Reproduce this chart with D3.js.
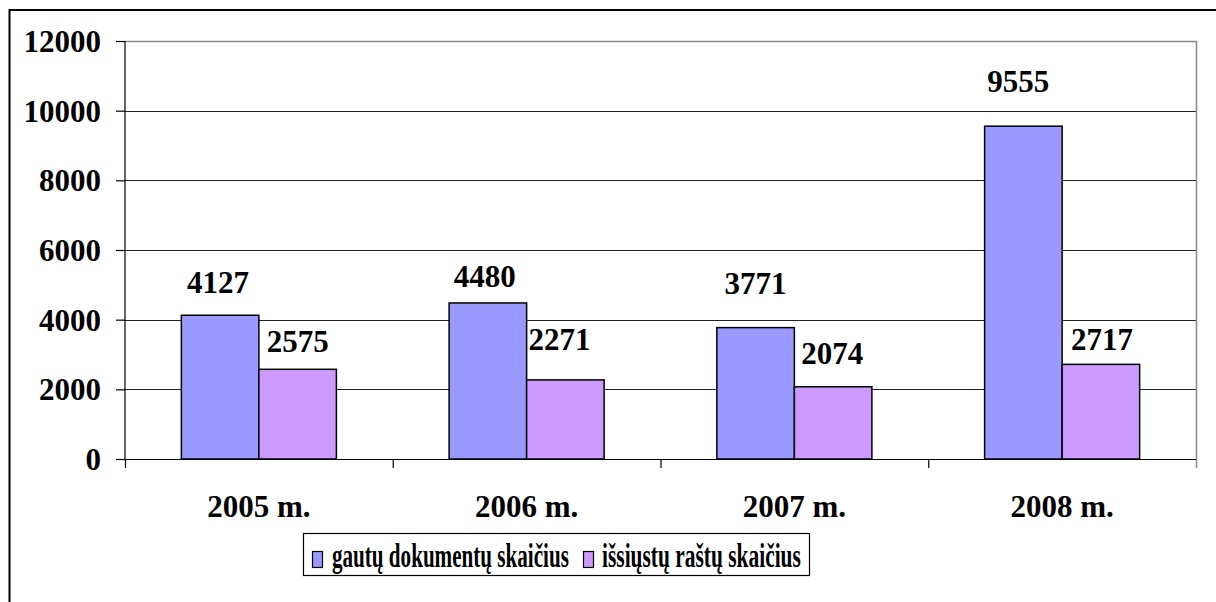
<!DOCTYPE html>
<html><head><meta charset="utf-8">
<script src="https://cdn.jsdelivr.net/npm/d3@7"></script>
<style>body{margin:0;background:#fff}svg{display:block}</style>
</head><body>
<script>
const categories = ["2005 m.", "2006 m.", "2007 m.", "2008 m."];
const seriesNames = ["gautų dokumentų skaičius", "išsiųstų raštų skaičius"];
const received = [4127, 4480, 3771, 9555];
const sent = [2575, 2271, 2074, 2717];
const yTicks = [0, 2000, 4000, 6000, 8000, 10000, 12000];
const colors = ["#9999FF", "#CC99FF"];
// label placement nudges (baseline gap above bar top, horizontal shift)
const gapReceived = [22, 16, 34, 34];
const gapSent = [17, 30, 23, 14];
const dxReceived = [-2, -3, 0, -5];
const dxSent = [0, -6, -1, 1];

const W = 1216, H = 602;
const font = "'Liberation Serif','Times New Roman',serif";
const svg = d3.select("body").append("svg").attr("width", W).attr("height", H);

// outer frame extending beyond the viewport
svg.append("rect").attr("x", 9.5).attr("y", 10).attr("width", 1300).attr("height", 700)
  .attr("fill", "none").attr("stroke", "#000").attr("stroke-width", 2);

const L = 125, R = 1196, T = 41, B = 459;
const x0 = d3.scaleBand().domain(categories).range([L, R]).padding(0);
const bw = x0.bandwidth();
const x1 = d3.scaleBand().domain([0, 1]).range([bw * 0.2105, bw * 0.7895]).padding(0);
const y = d3.scaleLinear().domain([0, 12000]).range([B, T]);

// gridlines
svg.append("g").selectAll("line").data(yTicks.filter(d => d > 0 && d < 12000)).join("line")
  .attr("x1", L).attr("x2", R).attr("y1", d => Math.round(y(d)) + 0.5).attr("y2", d => Math.round(y(d)) + 0.5)
  .attr("stroke", "#222").attr("stroke-width", 1);
// plot top/right border (gray)
svg.append("path").attr("d", `M${L},${T + 0.5}H${R + 0.5}V${B + 9}`)
  .attr("fill", "none").attr("stroke", "#888").attr("stroke-width", 1.5);

// y axis
const yAxis = d3.axisLeft(y).tickValues(yTicks).tickSize(9).tickPadding(15).tickFormat(d3.format("d"));
const gy = svg.append("g").attr("transform", `translate(${L},0)`).call(yAxis);
gy.select(".domain").attr("stroke", "#000").attr("stroke-width", 1.2).attr("d", `M0,${T}V${B}`);
gy.selectAll(".tick line").attr("stroke", "#000").attr("stroke-width", 1.2);
gy.selectAll("text").attr("font-family", font).attr("font-weight", "bold").attr("font-size", 31)
  .attr("fill", "#000").attr("dy", "0.34em");

// bars
const groups = svg.append("g").selectAll("g").data(categories).join("g")
  .attr("transform", d => `translate(${x0(d)},0)`);
groups.selectAll("rect").data((d, i) => [received[i], sent[i]]).join("rect")
  .attr("x", (d, j) => x1(j)).attr("width", x1.bandwidth())
  .attr("y", d => y(d)).attr("height", d => B - y(d))
  .attr("fill", (d, j) => colors[j]).attr("stroke", "#000").attr("stroke-width", 1.5);

// x axis
const xAxisG = svg.append("g").attr("transform", `translate(0,${B})`);
xAxisG.append("line").attr("x1", L - 9).attr("x2", R).attr("y1", 0.5).attr("y2", 0.5)
  .attr("stroke", "#000").attr("stroke-width", 1.2);
xAxisG.selectAll("line.tk").data(categories).join("line").attr("class", "tk")
  .attr("x1", d => x0(d) + 0.5).attr("x2", d => x0(d) + 0.5).attr("y1", 0).attr("y2", 9)
  .attr("stroke", "#000").attr("stroke-width", 1.2);
xAxisG.selectAll("text").data(categories).join("text")
  .attr("x", d => x0(d) + bw / 2).attr("y", 58).attr("text-anchor", "middle")
  .attr("font-family", font).attr("font-weight", "bold").attr("font-size", 31).text(d => d);

// value labels
const labels = svg.append("g").attr("font-family", font).attr("font-weight", "bold")
  .attr("font-size", 31).attr("text-anchor", "middle");
categories.forEach((c, i) => {
  labels.append("text").attr("x", x0(c) + x1(0) + x1.bandwidth() / 2 + dxReceived[i])
    .attr("y", y(received[i]) - gapReceived[i]).text(received[i]);
  labels.append("text").attr("x", x0(c) + x1(1) + x1.bandwidth() / 2 + dxSent[i])
    .attr("y", y(sent[i]) - gapSent[i]).text(sent[i]);
});

// legend
const lg = svg.append("g");
lg.append("rect").attr("x", 303.5).attr("y", 533.5).attr("width", 506).attr("height", 42)
  .attr("fill", "#fff").attr("stroke", "#000").attr("stroke-width", 1.2);
const legendItems = [
  {sx: 312, tx: 332, tl: 237},
  {sx: 583, tx: 602, tl: 199}
];
legendItems.forEach((it, j) => {
  lg.append("rect").attr("x", it.sx + 0.5).attr("y", 551.5).attr("width", 10).attr("height", 16)
    .attr("fill", colors[j]).attr("stroke", "#000").attr("stroke-width", 1.2);
  const t = lg.append("text").attr("x", 0).attr("y", 0).attr("font-family", font).attr("font-weight", "bold")
    .attr("font-size", 34).text(seriesNames[j]);
  const natural = t.node().getComputedTextLength();
  t.attr("transform", `translate(${it.tx},567) scale(${it.tl / natural},1)`);
});
</script>
</body></html>
